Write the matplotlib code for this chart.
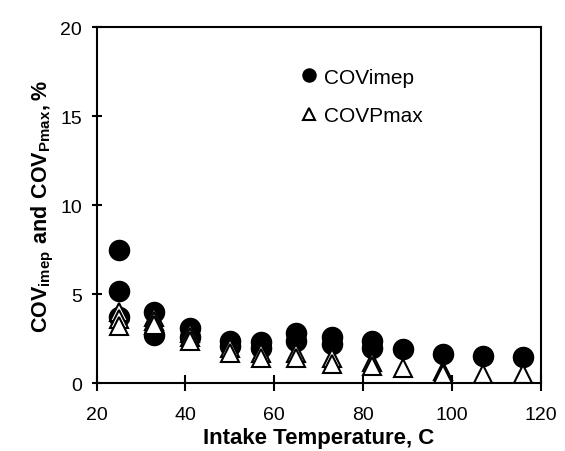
import matplotlib

matplotlib.use("Agg")
import matplotlib.pyplot as plt

plt.rcParams["font.family"] = ["Liberation Sans", "DejaVu Sans"]
plt.rcParams["mathtext.fontset"] = "custom"
plt.rcParams["mathtext.rm"] = "Liberation Sans"
plt.rcParams["mathtext.bf"] = "Liberation Sans:bold"

# COV of IMEP, several cycles sets per intake temperature
imep_temp = [25, 25, 25, 33, 33, 41, 41, 50, 50, 57, 57, 65, 65,
             73, 73, 82, 82, 89, 98, 107, 116]
imep_cov = [7.5, 5.2, 3.7, 4.0, 2.7, 3.1, 2.6, 2.4, 2.1, 2.3, 2.0, 2.8, 2.4,
            2.6, 2.2, 2.4, 2.0, 1.9, 1.65, 1.55, 1.45]

# COV of peak pressure
pmax_temp = [25, 25, 25, 33, 33, 33, 41, 41, 41, 50, 50, 57, 57, 65, 65,
             73, 73, 82, 82, 89, 98, 98, 107, 116]
pmax_cov = [4.0, 3.6, 3.2, 3.7, 3.5, 3.3, 2.8, 2.6, 2.4, 2.0, 1.7, 1.7, 1.4, 1.7, 1.4,
            1.4, 1.1, 1.2, 0.95, 0.85, 0.7, 0.5, 0.5, 0.5]

fig = plt.figure(figsize=(5.65, 4.52), dpi=100)
ax = fig.add_axes([0.171, 0.150, 0.786, 0.787])

ax.plot(imep_temp, imep_cov, "o", color="black", markersize=14.5,
        linestyle="none", label="COVimep")
ax.plot(pmax_temp, pmax_cov, "^", markerfacecolor="white", markeredgecolor="black",
        markeredgewidth=1.5, markersize=13, linestyle="none", label="COVPmax")

ax.set_xlim(20, 120)
ax.set_ylim(0, 20)
ax.set_xticks([20, 40, 60, 80, 100, 120])
ax.set_yticks([0, 5, 10, 15, 20])

for spine in ax.spines.values():
    spine.set_linewidth(1.5)
ax.tick_params(axis="x", direction="inout", length=11, width=1.5, pad=11, labelsize=14)
ax.tick_params(axis="y", direction="inout", length=7, width=1.5, pad=7, labelsize=14)

ax.set_xlabel("Intake Temperature, C", fontsize=16, fontweight="bold", labelpad=3)
ax.set_ylabel(r"$\mathbf{COV_{imep}\ and\ COV_{Pmax},\%}$",
              fontsize=15.5, labelpad=3)

ax.legend(loc="upper left", bbox_to_anchor=(0.412, 0.94), frameon=False,
          markerscale=0.65, handlelength=1.0, handletextpad=0.25,
          labelspacing=0.95, fontsize=15)

fig.savefig("out.png", dpi=100)
